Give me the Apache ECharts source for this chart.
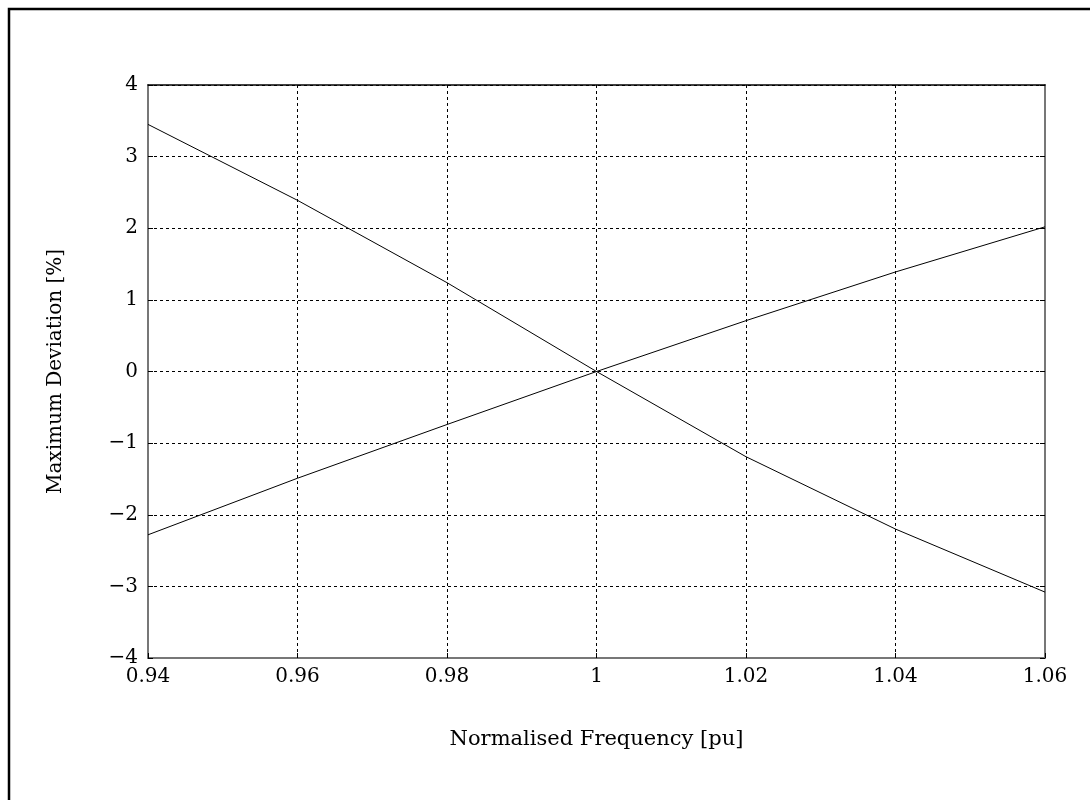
<!DOCTYPE html>
<html>
<head>
<meta charset="utf-8">
<script src="https://cdn.jsdelivr.net/npm/echarts@6/dist/echarts.min.js"></script>
<style>
  html, body { margin: 0; padding: 0; background: #fff; }
  #chart { width: 1090px; height: 800px; }
</style>
</head>
<body>
<div id="chart"></div>
<script>
const freq = [0.94, 0.96, 0.98, 1.0, 1.02, 1.04, 1.06];
const devFalling = [3.45, 2.39, 1.24, 0, -1.19, -2.2, -3.08];
const devRising = [-2.28, -1.49, -0.74, 0, 0.71, 1.39, 2.02];
const xTicks = [0.94, 0.96, 0.98, 1, 1.02, 1.04, 1.06];
const yTicks = [-4, -3, -2, -1, 0, 1, 2, 3, 4];

const font = "'DejaVu Serif', 'Liberation Serif', serif";
const chart = echarts.init(document.getElementById("chart"));

// tidy float labels, real minus sign
const fmt = (v) => {
  const s = String(Math.round(v * 100) / 100);
  return s.replace("-", "\u2212");
};

const option = {
  animation: false,
  backgroundColor: "#fff",
  grid: { left: 148, right: 45, top: 85, bottom: 142, show: false },
  graphic: [
    {
      type: "rect",
      shape: { x: 9, y: 9, width: 1200, height: 1000 },
      style: { fill: "none", stroke: "#000", lineWidth: 2.5 },
    },
  ],
  xAxis: [
    {
      type: "value",
      min: 0.94,
      max: 1.06,
      interval: 0.02,
      name: "Normalised Frequency [pu]",
      nameLocation: "middle",
      nameGap: 71,
      nameTextStyle: { fontFamily: font, fontSize: 21, color: "#000" },
      axisLine: { show: true, onZero: false, lineStyle: { color: "#777", width: 2 } },
      axisTick: { show: true, inside: true, length: 5, lineStyle: { color: "#000" } },
      axisLabel: { formatter: fmt, fontFamily: font, fontSize: 20, color: "#000", margin: 9 },
      splitLine: { show: true, lineStyle: { color: "#000", type: [3, 3], width: 1 } },
    },
    {
      type: "value",
      position: "top",
      min: 0.94,
      max: 1.06,
      interval: 0.02,
      axisLine: { show: true, onZero: false, lineStyle: { color: "#000", width: 1.5 } },
      axisTick: { show: false },
      axisLabel: { show: false },
      splitLine: { show: false },
    },
  ],
  yAxis: [
    {
      type: "value",
      min: -4,
      max: 4,
      interval: 1,
      name: "Maximum Deviation [%]",
      nameLocation: "middle",
      nameGap: 82,
      nameTextStyle: { fontFamily: font, fontSize: 20, color: "#000" },
      axisLine: { show: true, onZero: false, lineStyle: { color: "#777", width: 2 } },
      axisTick: { show: true, inside: true, length: 5, lineStyle: { color: "#000" } },
      axisLabel: { formatter: fmt, fontFamily: font, fontSize: 20, color: "#000", margin: 10 },
      splitLine: { show: true, lineStyle: { color: "#000", type: [3, 3], width: 1 } },
    },
    {
      type: "value",
      position: "right",
      min: -4,
      max: 4,
      interval: 1,
      axisLine: { show: true, onZero: false, lineStyle: { color: "#777", width: 2 } },
      axisTick: { show: true, inside: true, length: 5, lineStyle: { color: "#000" } },
      axisLabel: { show: false },
      splitLine: { show: false },
    },
  ],
  series: [
    {
      type: "line",
      data: freq.map((f, i) => [f, devFalling[i]]),
      showSymbol: false,
      lineStyle: { color: "#000", width: 1 },
    },
    {
      type: "line",
      data: freq.map((f, i) => [f, devRising[i]]),
      showSymbol: false,
      lineStyle: { color: "#000", width: 1 },
    },
  ],
};

chart.setOption(option);
</script>
</body>
</html>
